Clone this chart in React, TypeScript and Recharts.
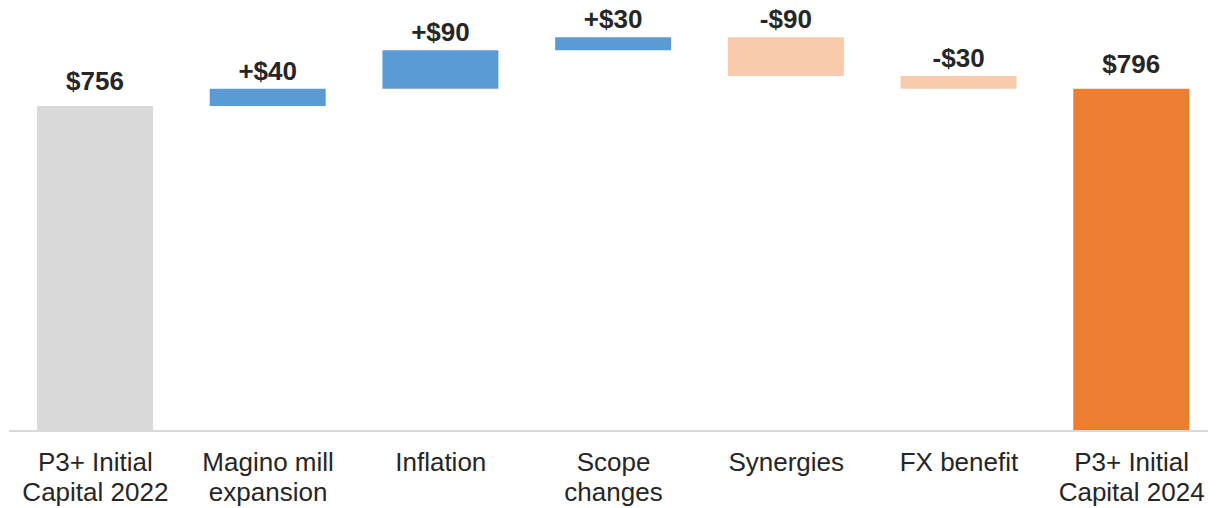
import React from "react";
import { BarChart, Bar, XAxis, YAxis, Cell, LabelList } from "recharts";

// waterfall: totals are absolute, the rest are deltas off the running total
const categories = [
  "P3+ Initial\nCapital 2022",
  "Magino mill\nexpansion",
  "Inflation",
  "Scope\nchanges",
  "Synergies",
  "FX benefit",
  "P3+ Initial\nCapital 2024",
];
const kinds = ["total", "up", "up", "up", "down", "down", "total"];
const values = [756, 40, 90, 30, -90, -30, 796];

const COLORS: Record<string, string> = {
  total: "#d9d9d9",
  up: "#5b9bd5",
  down: "#f8cbad",
  last: "#ed7d31",
};

const FONT = "'Liberation Sans', Arial, sans-serif";

let running = 0;
const data = categories.map((name, i) => {
  const v = values[i];
  let low: number;
  let high: number;
  if (kinds[i] === "total") {
    low = 0;
    high = v;
    running = v;
  } else {
    low = Math.min(running, running + v);
    high = Math.max(running, running + v);
    running += v;
  }
  return { name, range: [low, high] };
});

const fmt = (i: number) => {
  const v = values[i];
  if (kinds[i] === "total") return `$${v}`;
  return v > 0 ? `+$${v}` : `-$${Math.abs(v)}`;
};

const colorFor = (i: number) =>
  i === categories.length - 1 ? COLORS.last : COLORS[kinds[i]];

const ValueLabel = (props: any) => {
  const vb = props.viewBox || props;
  const { x, y, width } = vb;
  const i = props.index;
  const off = kinds[i] === "total" ? 16 : 9;
  return (
    <text
      x={x + width / 2}
      y={y - off}
      textAnchor="middle"
      fontFamily={FONT}
      fontWeight="bold"
      fontSize={26}
      fill="#262626"
    >
      {fmt(i)}
    </text>
  );
};

const CategoryTick = (props: any) => {
  const { x, y, payload } = props;
  const lines = String(payload.value).split("\n");
  return (
    <g transform={`translate(${x},${y})`}>
      <text textAnchor="middle" fontFamily={FONT} fontSize={26} fill="#262626">
        {lines.map((l, i) => (
          <tspan key={i} x={0} dy={i === 0 ? 40 : 30}>
            {l}
          </tspan>
        ))}
      </text>
    </g>
  );
};

export default function App() {
  // pull the svg up over the body margin so the top labels have room;
  // plot runs a pixel past the right edge like the original, so clip it
  return (
    <div style={{ width: 1208, height: 508, marginTop: -8, overflow: "hidden" }}>
      <BarChart
        width={1210}
        height={508}
        data={data}
        margin={{ top: 8, right: 0, bottom: 0, left: 1 }}
      >
        <XAxis
          dataKey="name"
          height={77}
          interval={0}
          tickLine={false}
          tickSize={0}
          tickMargin={0}
          axisLine={{ stroke: "#d9d9d9", strokeWidth: 2 }}
          tick={<CategoryTick />}
        />
        <YAxis hide domain={[0, 984]} />
        <Bar dataKey="range" barSize={116} isAnimationActive={false}>
          {data.map((_, i) => (
            <Cell key={i} fill={colorFor(i)} />
          ))}
          <LabelList dataKey="range" content={<ValueLabel />} />
        </Bar>
      </BarChart>
    </div>
  );
}
